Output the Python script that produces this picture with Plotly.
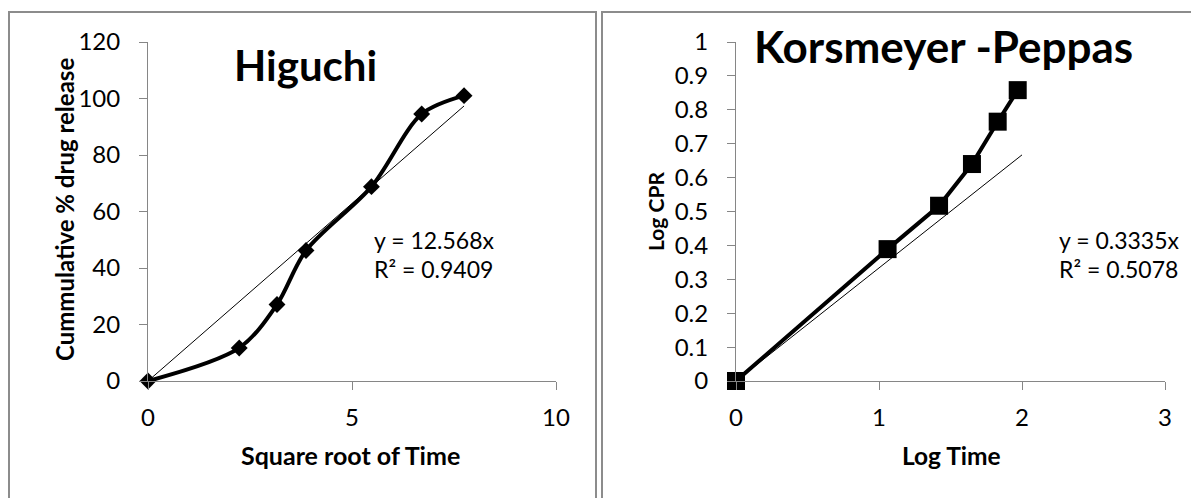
import plotly.graph_objects as go

# ---- data ----
hig_x = [0, 2.236, 3.162, 3.873, 5.477, 6.708, 7.746]
hig_y = [0, 11.7, 27.1, 46.2, 68.8, 94.5, 101.0]
hig_slope = 12.568
hig_trend_x = [0, 7.746]

kp_x = [0, 1.06, 1.42, 1.65, 1.83, 1.97]
kp_y = [0, 0.389, 0.517, 0.640, 0.765, 0.858]
kp_slope = 0.3335
kp_trend_x = [0, 2.0]

hig_xticks = [0, 5, 10]
hig_yticks = [0, 20, 40, 60, 80, 100, 120]
kp_xticks = [0, 1, 2, 3]
kp_yticks = [0, 0.1, 0.2, 0.3, 0.4, 0.5, 0.6, 0.7, 0.8, 0.9, 1]
kp_yticklabels = ["0", "0.1", "0.2", "0.3", "0.4", "0.5", "0.6", "0.7", "0.8", "0.9", "1"]

W, H = 1191, 498
FONT = "Lato"
AX = "#868686"


def px(x):
    return x / W


def py(y):
    return 1 - y / H


fig = go.Figure()

fig.add_trace(go.Scatter(x=hig_trend_x, y=[hig_slope * v for v in hig_trend_x],
                         mode="lines", line=dict(color="black", width=1),
                         xaxis="x", yaxis="y", showlegend=False, cliponaxis=False))
fig.add_trace(go.Scatter(x=hig_x, y=hig_y, mode="lines+markers",
                         line=dict(color="black", width=4, shape="spline", smoothing=0.9),
                         marker=dict(symbol="diamond", size=13, color="black"),
                         xaxis="x", yaxis="y", showlegend=False, cliponaxis=False))
fig.add_trace(go.Scatter(x=kp_trend_x, y=[kp_slope * v for v in kp_trend_x],
                         mode="lines", line=dict(color="black", width=1),
                         xaxis="x2", yaxis="y2", showlegend=False, cliponaxis=False))
fig.add_trace(go.Scatter(x=kp_x, y=kp_y, mode="lines+markers",
                         line=dict(color="black", width=4),
                         marker=dict(symbol="square", size=18, color="black"),
                         xaxis="x2", yaxis="y2", showlegend=False, cliponaxis=False))

axcommon = dict(showline=True, linecolor=AX, linewidth=1, ticks="outside", ticklen=8,
                tickcolor=AX, tickwidth=1, showgrid=False, zeroline=False, automargin=False,
                tickfont=dict(family=FONT, size=24, color="black"), fixedrange=True)

ydom = [py(381), py(42)]
fig.update_layout(
    template="none",
    width=W, height=H, margin=dict(l=0, r=0, t=0, b=0, pad=0, autoexpand=False),
    paper_bgcolor="white", plot_bgcolor="white",
    font=dict(family=FONT, color="black"),
    xaxis=dict(domain=[px(148), px(556)], range=[0, 10], tickvals=hig_xticks,
               anchor="y", ticklabelstandoff=7, **axcommon),
    yaxis=dict(domain=ydom, range=[0, 120], tickvals=hig_yticks,
               anchor="x", ticklabelstandoff=14, **axcommon),
    xaxis2=dict(domain=[px(736), px(1165)], range=[0, 3], tickvals=kp_xticks,
                anchor="y2", ticklabelstandoff=7, **axcommon),
    yaxis2=dict(domain=ydom, range=[0, 1], tickvals=kp_yticks, ticktext=kp_yticklabels,
                anchor="x2", ticklabelstandoff=14, **axcommon),
)

# panel borders
for x0, x1 in [(9, 596), (602, 1200)]:
    fig.add_shape(type="rect", xref="paper", yref="paper", x0=px(x0), x1=px(x1),
                  y0=-0.2, y1=py(12), line=dict(color="#8c8c8c", width=2), layer="below")

ann = []


def text(x, y, t, size, bold=False, xanchor="center", angle=0):
    ann.append(dict(x=px(x), y=py(y), xref="paper", yref="paper", text=("<b>%s</b>" % t) if bold else t,
                    showarrow=False, xanchor=xanchor, yanchor="middle", textangle=angle,
                    font=dict(family=FONT, size=size, color="black")))


text(305, 65, "Higuchi", 42, bold=True)
text(943, 46, "Korsmeyer -Peppas", 44, bold=True)
text(372, 240, "y = 12.568x", 23, xanchor="left")
text(372, 269, "R² = 0.9409", 23, xanchor="left")
text(1057, 240, "y = 0.3335x", 23, xanchor="left")
text(1057, 269, "R² = 0.5078", 23, xanchor="left")
text(350, 455, "Square root of Time", 25, bold=True)
text(951, 455, "Log Time", 24.5, bold=True)
text(64, 210, "Cummulative % drug release", 24, bold=True, angle=-90)
text(656, 212, "Log CPR", 21, bold=True, angle=-90)

fig.update_layout(annotations=ann)
fig.write_html("out.html")
